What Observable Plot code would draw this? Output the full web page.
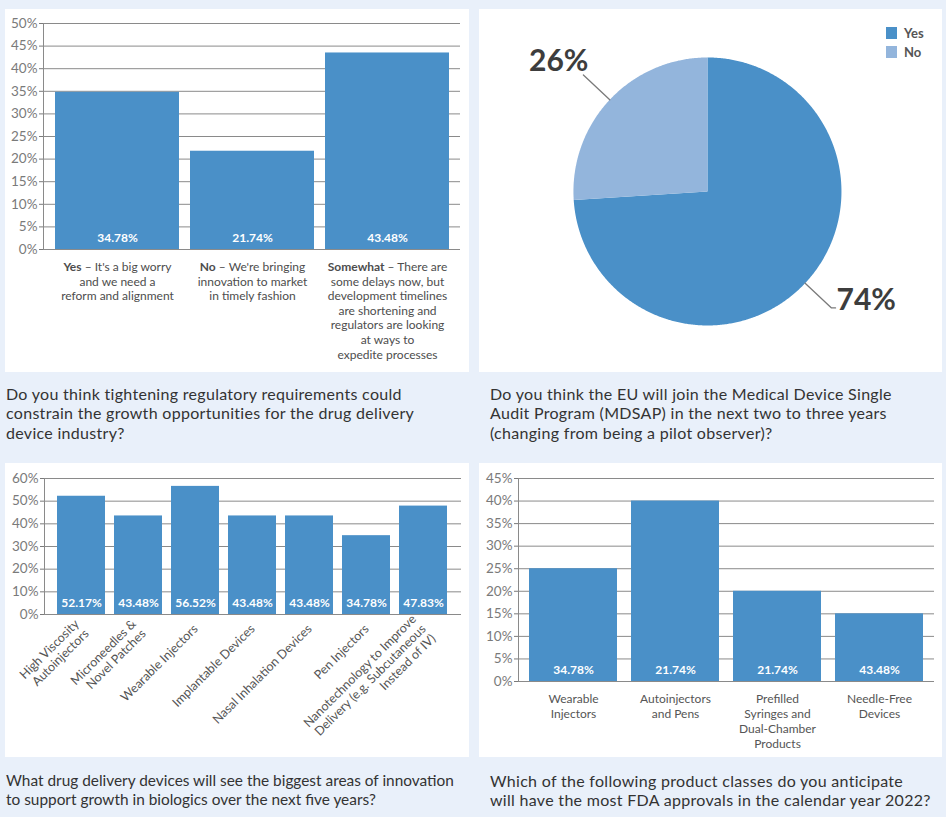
<!DOCTYPE html>
<html>
<head>
<meta charset="utf-8">
<script src="https://cdn.jsdelivr.net/npm/d3@7"></script>
<script src="https://cdn.jsdelivr.net/npm/@observablehq/plot@0.6"></script>
<style>
  html, body { margin: 0; padding: 0; }
  body { width: 946px; height: 817px; background: #e9f0fa; position: relative; overflow: hidden; font-family: Lato, "Open Sans", sans-serif; }
  .panel { position: absolute; background: #ffffff; }
  .panel svg { display: block; }
  .panel g[aria-label="y-axis tick label"] { font-size: 13.5px; }
  .q { position: absolute; font-size: 16px; line-height: 19.3px; letter-spacing: 0.3px; color: #333333; white-space: nowrap; }
  .legend { position: absolute; font-size: 13px; font-weight: bold; color: #555555; }
  .legend .item { position: absolute; left: 0; white-space: nowrap; }
  .legend .sw { position: absolute; left: 0; width: 11px; height: 12px; }
  .legend .lab { position: absolute; left: 18px; line-height: 12px; }
</style>
</head>
<body>
<div id="p1" class="panel" style="left:5px;top:9px;width:464px;height:363px"></div>
<div id="p2" class="panel" style="left:479px;top:9px;width:463px;height:363px">
  <div class="legend" style="left:407px;top:18px">
    <div class="item" style="top:0px"><div class="sw" style="background:#4a90c8"></div><div class="lab" id="lg0"></div></div>
    <div class="item" style="top:19px"><div class="sw" style="background:#93b5dc"></div><div class="lab" id="lg1"></div></div>
  </div>
</div>
<div id="p3" class="panel" style="left:5px;top:463px;width:464px;height:294px"></div>
<div id="p4" class="panel" style="left:479px;top:463px;width:463px;height:294px"></div>

<div class="q" style="left:6px;top:384px">Do you think tightening regulatory requirements could<br>constrain the growth opportunities for the drug delivery<br>device industry?</div>
<div class="q" style="left:490px;top:384px">Do you think the EU will join the Medical Device Single<br>Audit Program (MDSAP) in the next two to three years<br>(changing from being a pilot observer)?</div>
<div class="q" style="left:6px;top:771px;font-size:15.4px;letter-spacing:0;line-height:18.6px">What drug delivery devices will see the biggest areas of innovation<br>to support growth in biologics over the next five years?</div>
<div class="q" style="left:490px;top:771px">Which of the following product classes do you anticipate<br>will have the most FDA approvals in the calendar year 2022?</div>

<script>
// ---------- DATA ----------
const q1Categories = [
  "Yes – It's a big worry\nand we need a\nreform and alignment",
  "No – We're bringing\ninnovation to market\nin timely fashion",
  "Somewhat – There are\nsome delays now, but\ndevelopment timelines\nare shortening and\nregulators are looking\nat ways to\nexpedite processes"
];
const q1Values = [34.78, 21.74, 43.48];
const q1Labels = ["34.78%", "21.74%", "43.48%"];
const q1Ticks = [0, 5, 10, 15, 20, 25, 30, 35, 40, 45, 50];

const q2Categories = ["Yes", "No"];
const q2Values = [74, 26];
const q2Labels = ["74%", "26%"];

const q3Categories = [
  "High Viscosity\nAutoinjectors",
  "Microneedles &\nNovel Patches",
  "Wearable Injectors",
  "Implantable Devices",
  "Nasal Inhalation Devices",
  "Pen Injectors",
  "Nanotechnology to Improve\nDelivery (e.g. Subcutaneous\nInstead of IV)"
];
const q3Values = [52.17, 43.48, 56.52, 43.48, 43.48, 34.78, 47.83];
const q3Labels = ["52.17%", "43.48%", "56.52%", "43.48%", "43.48%", "34.78%", "47.83%"];
const q3Ticks = [0, 10, 20, 30, 40, 50, 60];

const q4Categories = [
  "Wearable\nInjectors",
  "Autoinjectors\nand Pens",
  "Prefilled\nSyringes and\nDual-Chamber\nProducts",
  "Needle-Free\nDevices"
];
const q4Values = [25, 40, 20, 15];
const q4Labels = ["34.78%", "21.74%", "21.74%", "43.48%"];
const q4Ticks = [0, 5, 10, 15, 20, 25, 30, 35, 40, 45];

// ---------- STYLE ----------
const BLUE = "#4a90c8";
const LIGHT = "#93b5dc";
const GRID = "#8a8a8a";

function barChart(o) {
  const data = o.cats.map((c, i) => ({cat: c, value: o.vals[i], label: o.labels[i]}));
  const xAxisOpts = Object.assign({
    tickSize: 0, fontSize: 12, color: "#4d4d4d", lineHeight: 1.22
  }, o.xAxis);
  return Plot.plot({
    width: o.width, height: o.height,
    marginLeft: o.margin[3], marginRight: o.margin[1], marginTop: o.margin[0], marginBottom: o.margin[2],
    style: {fontFamily: "Lato, 'Open Sans', sans-serif", fontSize: "13px", background: "#ffffff", color: "#4d4d4d"},
    x: {domain: o.cats, paddingInner: o.pad[0], paddingOuter: o.pad[1], label: null},
    y: {domain: [0, o.ticks[o.ticks.length - 1]], label: null},
    marks: [
      Plot.gridY(o.ticks, {stroke: GRID, strokeOpacity: 1, strokeWidth: 1}),
      Plot.barY(data, {x: "cat", y: "value", fill: BLUE}),
      Plot.text(data, {x: "cat", y: () => 0, text: "label", dy: -11, fill: "#ffffff", fontWeight: "bold", fontSize: 12}),
      Plot.frame({anchor: "left", stroke: GRID}),
      Plot.axisY({ticks: o.ticks, tickFormat: d => d + "%", tickSize: 4, tickPadding: 2, fontSize: 13.5, color: "#7a7a7a", label: null}),
      Plot.axisX(xAxisOpts)
    ]
  });
}

// Panel 1
const svg1 = barChart({
  cats: q1Categories, vals: q1Values, labels: q1Labels, ticks: q1Ticks,
  width: 464, height: 363, margin: [14, 9, 123, 38], pad: [0.085, 0.08],
  xAxis: {tickPadding: 11, label: null}
});
// bold lead word in the first line of each label
d3.select(svg1).selectAll('g[aria-label="x-axis tick label"] text').each(function() {
  const first = this.querySelector("tspan") || this;
  const s = first.textContent;
  const k = s.indexOf(" – ");
  if (k > 0) {
    first.textContent = "";
    const b = document.createElementNS("http://www.w3.org/2000/svg", "tspan");
    b.setAttribute("font-weight", "bold");
    b.textContent = s.slice(0, k);
    const r = document.createElementNS("http://www.w3.org/2000/svg", "tspan");
    r.textContent = s.slice(k);
    first.appendChild(b); first.appendChild(r);
  }
});
document.getElementById("p1").appendChild(svg1);

// Panel 3
const svg3 = barChart({
  cats: q3Categories, vals: q3Values, labels: q3Labels, ticks: q3Ticks,
  width: 464, height: 294, margin: [15, 8, 143, 39], pad: [0.152, 0.18],
  xAxis: {tickRotate: -45, tickPadding: 12, fontSize: 12.5, lineHeight: 1.1, color: "#555555", label: null}
});
document.getElementById("p3").appendChild(svg3);

// Panel 4
const svg4 = barChart({
  cats: q4Categories, vals: q4Values, labels: q4Labels, ticks: q4Ticks,
  width: 463, height: 294, margin: [15, 8, 76, 39], pad: [0.14, 0.103],
  xAxis: {tickPadding: 11, color: "#555555", lineHeight: 1.25, label: null}
});
document.getElementById("p4").appendChild(svg4);

// Panel 2: pie
const pieData = q2Categories.map((c, i) => ({key: c, value: q2Values[i], label: q2Labels[i]}));
const arcs = d3.pie().sort(null).value(d => d.value)(pieData);
const slicePts = [];
const leaderPts = [];
const labelPts = [];
arcs.forEach(a => {
  const key = a.data.key;
  slicePts.push({key, x: 0, y: 0});
  const n = Math.max(2, Math.ceil((a.endAngle - a.startAngle) / (Math.PI / 360)));
  for (let j = 0; j <= n; j++) {
    const t = a.startAngle + (a.endAngle - a.startAngle) * j / n;
    slicePts.push({key, x: Math.sin(t), y: Math.cos(t)});
  }
  const m = (a.startAngle + a.endAngle) / 2;
  const side = Math.sin(m) >= 0 ? 1 : -1;
  const ex = 1.27 * Math.sin(m), ey = 1.27 * Math.cos(m);
  leaderPts.push({key, x: Math.sin(m), y: Math.cos(m)});
  leaderPts.push({key, x: ex, y: ey});
  if (side > 0) leaderPts.push({key, x: ex + 0.03, y: ey});
  labelPts.push({key, side, x: side > 0 ? ex + 0.03 : ex, y: ey, label: a.data.label});
});

const svg2 = Plot.plot({
  width: 463, height: 363,
  marginLeft: 0, marginRight: 0, marginTop: 0, marginBottom: 0,
  style: {fontFamily: "Lato, 'Open Sans', sans-serif", background: "#ffffff"},
  x: {domain: [-1.701, 1.754], axis: null},
  y: {domain: [-1.351, 1.358], axis: null},
  color: {domain: q2Categories, range: [BLUE, LIGHT]},
  marks: [
    Plot.line(slicePts, {x: "x", y: "y", z: "key", fill: "key", stroke: null, curve: "linear"}),
    Plot.line(leaderPts, {x: "x", y: "y", z: "key", stroke: "#7a7a7a", strokeWidth: 1.3}),
    Plot.text(labelPts.filter(d => d.side > 0), {x: "x", y: "y", text: "label", textAnchor: "start", lineAnchor: "bottom", dx: 1, dy: 2, fontSize: 30, fontWeight: "bold", fill: "#3d3d3d"}),
    Plot.text(labelPts.filter(d => d.side < 0), {x: "x", y: "y", text: "label", textAnchor: "end", lineAnchor: "bottom", dx: 5, dy: -4, fontSize: 30, fontWeight: "bold", fill: "#3d3d3d"})
  ]
});
document.getElementById("p2").insertBefore(svg2, document.getElementById("p2").firstChild);
document.getElementById("lg0").textContent = q2Categories[0];
document.getElementById("lg1").textContent = q2Categories[1];
</script>
</body>
</html>
